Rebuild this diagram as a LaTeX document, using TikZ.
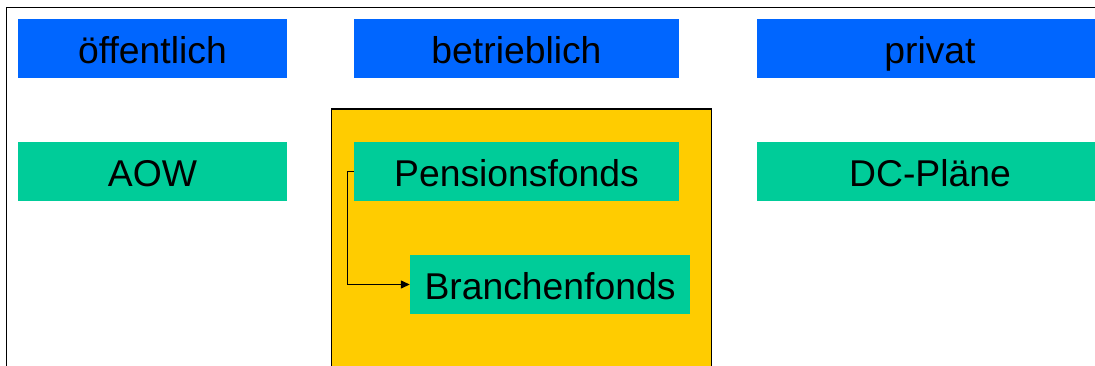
\documentclass[tikz,border=0pt]{standalone}
\usepackage{fontspec}
\setmainfont{Liberation Sans}
\usetikzlibrary{arrows.meta}
\definecolor{headblue}{RGB}{0,102,255}
\definecolor{itemgreen}{RGB}{0,204,153}
\definecolor{groupyellow}{RGB}{255,204,0}
\tikzset{
  cell/.style={draw=none, inner sep=0pt, minimum height=59pt,
    text height=29pt, text depth=0pt,
    font=\fontsize{37.3pt}{40pt}\selectfont},
  headcell/.style={cell, fill=headblue},
  itemcell/.style={cell, fill=itemgreen},
  link/.style={line width=1.3pt, -{Triangle[length=9pt,width=8pt]}},
}
\begin{document}
\begin{tikzpicture}[x=1pt, y=-1pt]
  \useasboundingbox (0,0) rectangle (1095,365);
  \clip (0,0) rectangle (1095,365);
  \fill[white] (0,0) rectangle (1095,365);
  % outer frame (runs off the right and bottom edges)
  \draw[line width=1.8pt] (6.5,400) -- (6.5,7.5) -- (1120,7.5);
  % yellow group for occupational schemes
  \draw[fill=groupyellow, line width=1.4pt] (331.5,400) -- (331.5,109) -- (711.5,109) -- (711.5,400);
  % column headings
  \node[headcell, minimum width=269pt] (pub) at (152.5,48.5) {öffentlich};
  \node[headcell, minimum width=325pt] (occ) at (516.5,48.5) {betrieblich};
  \node[headcell, minimum width=346pt] (prv) at (930,48.5) {privat};
  % schemes
  \node[itemcell, minimum width=269pt] (aow) at (152.5,171.5) {AOW};
  \node[itemcell, minimum width=325pt] (pf) at (516.5,171.5) {Pensionsfonds};
  \node[itemcell, minimum width=280pt] (bf) at (550,284.5) {Branchenfonds};
  \node[itemcell, minimum width=346pt] (dc) at (930,171.5) {DC-Pläne};
  % connector
  \draw[link] (pf.west) -- ++(-6,0) |- (bf.west);
\end{tikzpicture}
\end{document}
